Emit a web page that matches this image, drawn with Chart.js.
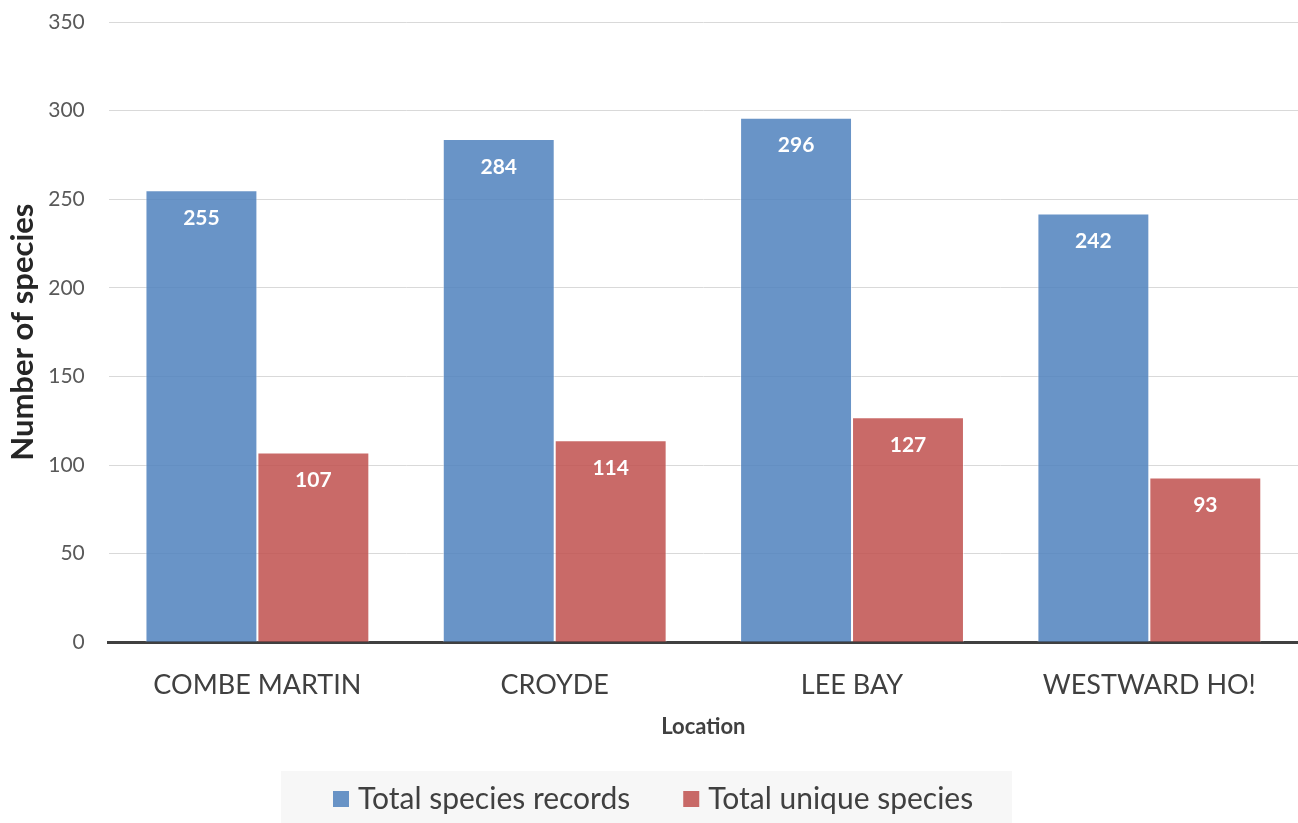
<!DOCTYPE html>
<html>
<head>
<meta charset="utf-8">
<script src="https://cdn.jsdelivr.net/npm/chart.js@4"></script>
<style>
  html, body { margin: 0; padding: 0; background: #fff; }
  #wrap { width: 1298px; height: 823px; }
</style>
</head>
<body>
<div id="wrap"><canvas id="myChart"></canvas></div>
<script>
'use strict';

const locations = ['COMBE MARTIN', 'CROYDE', 'LEE BAY', 'WESTWARD HO!'];
const totalRecords = [255, 284, 296, 242];
const uniqueSpecies = [107, 114, 127, 93];
const yTicks = [0, 50, 100, 150, 200, 250, 300, 350];

const FONT = 'Lato, "Open Sans", sans-serif';

// values drawn inside the top of each bar
const barLabels = {
	id: 'barLabels',
	afterDatasetsDraw(chart) {
		const c = chart.ctx;
		c.save();
		c.fillStyle = '#fff';
		c.font = 'bold 21px ' + FONT;
		c.textAlign = 'center';
		c.textBaseline = 'middle';
		chart.data.datasets.forEach((ds, i) => {
			chart.getDatasetMeta(i).data.forEach((bar, j) => {
				c.fillText(ds.data[j], bar.x, bar.y + 28);
			});
		});
		c.restore();
	}
};

// legend in a grey panel under the chart
const bottomLegend = {
	id: 'bottomLegend',
	afterDraw(chart) {
		const c = chart.ctx;
		c.save();
		c.fillStyle = '#f7f7f7';
		c.fillRect(281, 771, 731, 52);
		c.font = '30px ' + FONT;
		c.textBaseline = 'middle';
		c.textAlign = 'left';
		let x = 333;
		const y = 799;
		chart.data.datasets.forEach(ds => {
			c.fillStyle = ds.backgroundColor;
			c.fillRect(x, y - 8, 16, 16);
			x += 25;
			c.fillStyle = '#404040';
			c.fillText(ds.label, x, y);
			x += c.measureText(ds.label).width + 53;
		});
		c.restore();
	}
};

new Chart(document.getElementById('myChart'), {
	type: 'bar',
	data: {
		labels: locations,
		datasets: [{
			label: 'Total species records',
			data: totalRecords,
			backgroundColor: 'rgba(79,129,189,0.85)',
			borderColor: 'rgba(255,255,255,0.5)',
			borderWidth: 1
		}, {
			label: 'Total unique species',
			data: uniqueSpecies,
			backgroundColor: 'rgba(192,80,77,0.85)',
			borderColor: 'rgba(255,255,255,0.5)',
			borderWidth: 1
		}]
	},
	options: {
		responsive: true,
		maintainAspectRatio: false,
		animation: false,
		layout: { padding: { top: 22, right: 0, left: 4, bottom: 83 } },
		categoryPercentage: 0.753,
		barPercentage: 1.0,
		scales: {
			x: {
				grid: { display: false },
				border: { color: '#404040', width: 3 },
				ticks: { color: '#404040', font: { family: FONT, size: 27 }, padding: 19 },
				title: {
					display: true, text: 'Location', color: '#404040',
					font: { family: FONT, size: 22, weight: 'bold' }, padding: { top: -7, bottom: 0 }
				}
			},
			y: {
				min: 0, max: 350,
				afterBuildTicks(axis) { axis.ticks = yTicks.map(v => ({ value: v })); },
				afterFit(axis) { axis.paddingTop = 0; },
				grid: { color: '#d9d9d9', lineWidth: 1, drawTicks: false },
				border: { display: false },
				ticks: { color: '#595959', font: { family: FONT, size: 21 }, padding: 24 },
				title: {
					display: true, text: 'Number of species', color: '#262626',
					font: { family: FONT, size: 31, weight: 'bold' }, padding: { top: 0, bottom: -17 }
				}
			}
		},
		plugins: {
			tooltip: { enabled: false },
			legend: { display: false }
		}
	},
	plugins: [barLabels, bottomLegend]
});
</script>
</body>
</html>
